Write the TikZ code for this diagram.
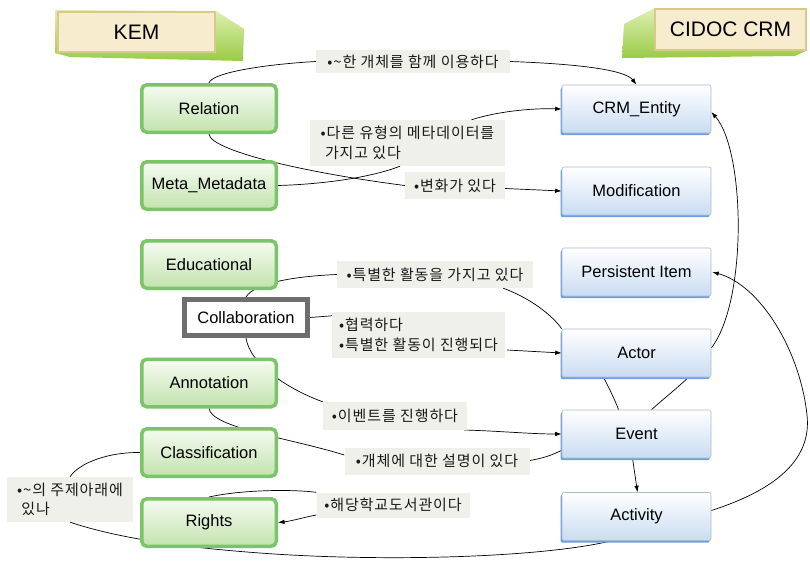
\documentclass[tikz,border=0pt]{standalone}
\usepackage{fontspec}
\setmainfont{Liberation Sans}
\newfontfamily\kr[LetterSpace=6]{Noto Sans CJK KR}
\usetikzlibrary{arrows.meta,shadows,calc}
\definecolor{gborder}{HTML}{7CC468}
\definecolor{gtop}{HTML}{F6FBF2}
\definecolor{gbot}{HTML}{C2E3AE}
\definecolor{btop}{HTML}{FFFFFF}
\definecolor{bbot}{HTML}{C9DCF2}
\definecolor{bborder}{HTML}{AEBACB}
\definecolor{bshadow}{HTML}{6D9EE0}
\definecolor{labelbg}{HTML}{F0F0EB}
\definecolor{facefill}{HTML}{F8ECCE}
\definecolor{facedraw}{HTML}{D9C98A}
\definecolor{extop}{HTML}{DFF0B0}
\definecolor{exbot}{HTML}{9ACB48}
\definecolor{collabdraw}{HTML}{6E6E6E}
\pgfdeclarelayer{bg}
\pgfsetlayers{bg,main}
\tikzset{
  gbox/.style={draw=gborder, line width=3.5pt, rounded corners=5pt, top color=gtop, bottom color=gbot,
    minimum width=134.5pt, minimum height=47.5pt, inner sep=0pt, font=\fontsize{16.5}{19}\selectfont},
  bbox/.style={draw=bborder, line width=0.6pt, rounded corners=2pt, top color=btop, bottom color=bbot,
    general shadow={fill=bshadow, shadow xshift=-1.3pt, shadow yshift=-2.2pt},
    minimum width=149pt, minimum height=48pt, inner sep=0pt, font=\fontsize{16.5}{19}\selectfont},
  cbox/.style={draw=collabdraw, line width=5pt, fill=white, minimum width=123pt, minimum height=36pt,
    inner sep=0pt, font=\fontsize{16.5}{19}\selectfont},
  lbl/.style={fill=labelbg, inner sep=0pt, align=left, text=black!90, font=\kr\fontsize{15}{19.5}\selectfont},
  face/.style={fill=facefill, draw=facedraw, line width=1.5pt, inner sep=0pt, font=\fontsize{21}{24}\selectfont},
  conn/.style={draw=black, line width=0.7pt},
  arr/.style={conn, -{Latex[length=6.5pt,width=4.5pt]}},
}
\begin{document}
\begin{tikzpicture}[x=1pt,y=-1pt]
\useasboundingbox (0,0) rectangle (810,560);
\begin{pgfonlayer}{bg}
\fill[white] (0,0) rectangle (810,560);
\end{pgfonlayer}

% headers
\shade[top color=extop, bottom color=exbot] (55,10) -- (216,11) -- (244,29) -- (243,61) -- (70,57) -- (55,53) -- cycle;
\node[face, minimum width=157pt, minimum height=40pt] (kem) at (136.5,32) {KEM};
\shade[top color=extop, bottom color=exbot] (655,8) -- (624,24) -- (622,58) -- (795,56) -- (808,50) -- cycle;
\node[face, minimum width=151pt, minimum height=41pt] (cidoc) at (730.5,29.5) {CIDOC CRM};

% KEM nodes
\node[gbox] (rel) at (209,108.5) {Relation};
\node[gbox] (meta) at (209,185.5) {Meta\_Metadata};
\node[gbox] (edu) at (209,264.5) {Educational};
\node[cbox] (col) at (246,317.5) {Collaboration};
\node[gbox] (ann) at (209,383) {Annotation};
\node[gbox] (cla) at (209,452.5) {Classification};
\node[gbox] (rig) at (209,522.5) {Rights};

% CIDOC nodes
\node[bbox] (ent) at (636.5,109) {CRM\_Entity};
\node[bbox] (mod) at (636.5,191) {Modification};
\node[bbox] (per) at (636.5,272) {Persistent Item};
\node[bbox] (act) at (636.5,353) {Actor};
\node[bbox] (evt) at (636.5,434) {Event};
\node[bbox] (actv) at (636.5,516.5) {Activity};

% labels
\node[lbl, minimum width=194pt, minimum height=23pt] (L1) at (413,61.5) {•\textasciitilde 한 개체를 함께 이용하다};
\node[lbl, minimum width=195pt, minimum height=46pt] (L2) at (407.5,143) {•다른 유형의 메타데이터를\\\ 가지고 있다};
\node[lbl, minimum width=100pt, minimum height=27pt] (L3) at (455,185.5) {•변화가 있다};
\node[lbl, minimum width=196pt, minimum height=27pt] (L4) at (435,274.5) {•특별한 활동을 가지고 있다};
\node[lbl, minimum width=173pt, minimum height=46pt] (L5) at (418.5,335) {•협력하다\\•특별한 활동이 진행되다};
\node[lbl, minimum width=144pt, minimum height=28pt] (L6) at (395,416) {•이벤트를 진행하다};
\node[lbl, minimum width=185pt, minimum height=27pt] (L7) at (437,461) {•개체에 대한 설명이 있다};
\node[lbl, minimum width=126pt, minimum height=45pt] (L8) at (70,499.5) {•\textasciitilde 의 주제아래에\\\ 있나};
\node[lbl, minimum width=153pt, minimum height=25pt] (L9) at (393,505) {•해당학교도서관이다};

% connectors
\begin{pgfonlayer}{bg}
\draw[conn] (rel.north) .. controls (212,72) and (270,64) .. (L1.west);
\draw[arr] (L1.east) .. controls (580,64) and (625,70) .. (ent.north);
\draw[conn] (meta.east) .. controls (330,184) and (375,176) .. ($(L2.south)+(-7.5,0)$);
\draw[arr] ($(L2.north)+(64,0)$) .. controls (495,112) and (530,108) .. (ent.west);
\draw[conn] (rel.south) .. controls (210,150) and (300,172) .. (L3.west);
\draw[arr] ($(L3.east)+(0,3)$) -- (mod.west);
\draw[conn] (col.north) .. controls (255,282) and (300,276) .. (L4.west);
\draw[conn] ($(L4.south east)+(-30,0)$) .. controls (530,298) and (552,315) .. (act.north west);
\draw[conn] (col.east) -- ($(L5.north west)+(0,4)$);
\draw[arr] ($(L5.east)+(2,15)$) -- (act.west);
\draw[conn] (col.south) .. controls (250,365) and (290,390) .. (L6.north west);
\draw[arr] ($(L6.east)+(-3,14)$) .. controls (500,431) and (530,434) .. (evt.west);
\draw[conn] (ann.south) .. controls (212,428) and (290,438) .. ($(L7.west)+(0,-6)$);
\draw[conn] ($(L7.east)+(-3,0)$) .. controls (545,458) and (552,455) .. ($(evt.south west)+(0,-8)$);
\draw[conn] (cla.west) .. controls (110,452) and (80,462) .. (L8.north);
\draw[conn] (L8.south) .. controls (100,532) and (150,545) .. (260,553) .. controls (380,562) and (540,558) .. ($(actv.south)+(-25,0)$);
\draw[conn] (rig.north) .. controls (240,490) and (290,489) .. (L9.north west);
\draw[arr] ($(L9.west)+(0,10)$) .. controls (305,517) and (292,521) .. (rig.east);
\draw[arr] ($(evt.south)+(-4,0)$) -- ($(actv.north)+(1,0)$);
\draw[conn] ($(act.south)+(-33,0)$) .. controls (610,390) and (615,400) .. ($(evt.north)+(-18,0)$);
\draw[conn] ($(act.south)+(52,0)$) .. controls (675,390) and (662,400) .. ($(evt.north)+(15,0)$);
\draw[arr] ($(act.east)+(0,-5)$) .. controls (748,300) and (745,150) .. ($(ent.east)+(0,3)$);
\draw[arr] ($(actv.east)+(0,-6)$) .. controls (775,490) and (812,460) .. (807,415) .. controls (800,350) and (760,285) .. ($(per.east)+(1,0)$);
\end{pgfonlayer}
\end{tikzpicture}
\end{document}
